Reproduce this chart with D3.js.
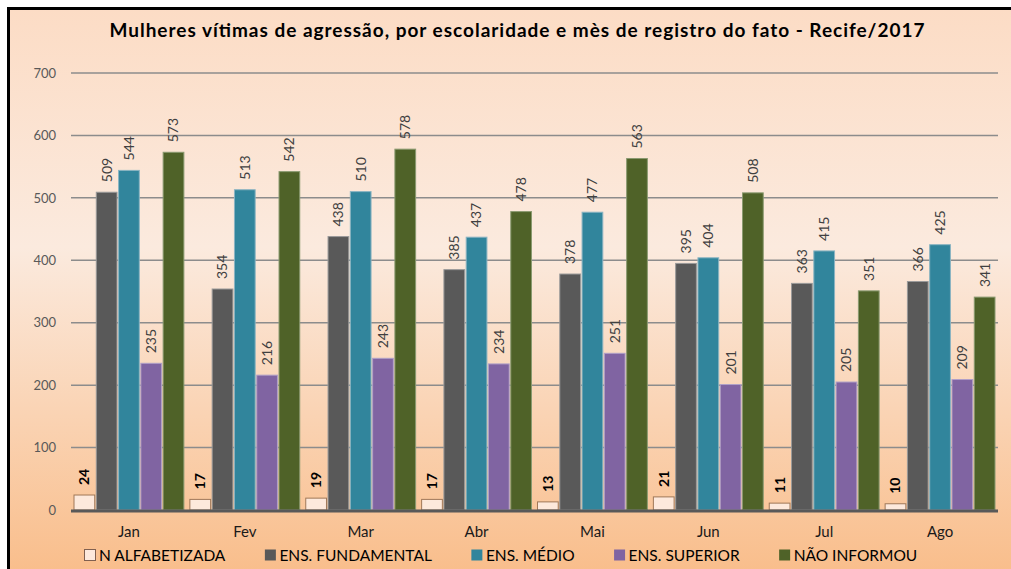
<!DOCTYPE html>
<html>
<head>
<meta charset="utf-8">
<script src="https://cdn.jsdelivr.net/npm/d3@7"></script>
<style>
  html, body { margin: 0; padding: 0; background: #fff; }
  svg { display: block; }
</style>
</head>
<body>
<svg id="chart" width="1011" height="569"></svg>
<script>
var months = ['Jan', 'Fev', 'Mar', 'Abr', 'Mai', 'Jun', 'Jul', 'Ago'];
var seriesNames = ['N ALFABETIZADA', 'ENS. FUNDAMENTAL', 'ENS. MÉDIO', 'ENS. SUPERIOR', 'NÃO INFORMOU'];
var nAlfabetizada = [24, 17, 19, 17, 13, 21, 11, 10];
var ensFundamental = [509, 354, 438, 385, 378, 395, 363, 366];
var ensMedio = [544, 513, 510, 437, 477, 404, 415, 425];
var ensSuperior = [235, 216, 243, 234, 251, 201, 205, 209];
var naoInformou = [573, 542, 578, 478, 563, 508, 351, 341];
var yTicks = [0, 100, 200, 300, 400, 500, 600, 700];
var title = 'Mulheres vítimas de agressão, por escolaridade e mès de registro do fato - Recife/2017';

var seriesValues = [nAlfabetizada, ensFundamental, ensMedio, ensSuperior, naoInformou];
var fills = ['#fde9dc', '#595959', '#31859c', '#8064a2', '#4f6228'];
var strokes = ['#a07858', '#9a9a9a', '#8ab4c2', '#b0a0c8', '#8a9a70'];

var FONT = "Lato, 'Liberation Sans', sans-serif";

var svg = d3.select('#chart');
var W = 1011, H = 569;

var defs = svg.append('defs');
var grad = defs.append('linearGradient').attr('id', 'bg')
  .attr('x1', 0).attr('y1', 0).attr('x2', 0).attr('y2', 1);
grad.append('stop').attr('offset', '0%').attr('stop-color', '#fcdcc5');
grad.append('stop').attr('offset', '42%').attr('stop-color', '#fbeade');
grad.append('stop').attr('offset', '100%').attr('stop-color', '#f9bd8a');

svg.append('rect')
  .attr('x', 8.5).attr('y', 8.5)
  .attr('width', W).attr('height', H)
  .attr('fill', 'url(#bg)')
  .attr('stroke', '#000').attr('stroke-width', 3);

svg.append('text')
  .attr('x', 517).attr('y', 37)
  .attr('text-anchor', 'middle')
  .attr('font-family', FONT)
  .attr('font-weight', 'bold')
  .attr('font-size', 19)
  .attr('textLength', 815).attr('lengthAdjust', 'spacing')
  .attr('fill', '#000')
  .text(title);

var x0 = 71, x1 = 998, yTop = 73, yBot = 510;

var x = d3.scaleBand().domain(months).range([x0, x1]).padding(0);
var xs = d3.scaleBand().domain(d3.range(seriesNames.length))
  .range([3, x.bandwidth() - 3]).paddingInner(0.07).paddingOuter(0);
var y = d3.scaleLinear().domain([0, 700]).range([yBot, yTop]);

// grid
svg.append('g').selectAll('line').data(yTicks.filter(function(d) { return d > 0; }))
  .enter().append('line')
  .attr('x1', x0).attr('x2', x1)
  .attr('y1', function(d) { return y(d); }).attr('y2', function(d) { return y(d); })
  .attr('stroke', '#8c8c8c').attr('stroke-width', 1.5);

var yAxis = svg.append('g')
  .attr('transform', 'translate(' + x0 + ',0)')
  .call(d3.axisLeft(y).tickValues(yTicks).tickSize(0).tickPadding(15));
yAxis.select('.domain').remove();
yAxis.selectAll('text')
  .attr('font-family', FONT).attr('font-size', 13).attr('fill', '#595959');

// bars
var groups = svg.append('g').selectAll('g').data(months).enter().append('g')
  .attr('transform', function(d) { return 'translate(' + x(d) + ',0)'; });

groups.each(function(m, mi) {
  var g = d3.select(this);
  seriesValues.forEach(function(vals, si) {
    var v = vals[mi];
    var bx = xs(si);
    g.append('rect')
      .attr('x', bx).attr('y', y(v))
      .attr('width', xs.bandwidth()).attr('height', yBot - y(v))
      .attr('fill', fills[si])
      .attr('stroke', strokes[si]).attr('stroke-width', 1);
    var cx = bx + xs.bandwidth() / 2;
    var ty = y(v) - 10;
    g.append('text')
      .attr('transform', 'translate(' + cx + ',' + ty + ') rotate(-90)')
      .attr('dy', '0.35em')
      .attr('font-family', FONT)
      .attr('font-size', 14)
      .attr('font-weight', si === 0 ? 'bold' : 'normal')
      .attr('fill', si === 0 ? '#000' : '#404040')
      .text(v);
  });
});

// baseline
svg.append('line')
  .attr('x1', x0).attr('x2', x1).attr('y1', yBot + 1).attr('y2', yBot + 1)
  .attr('stroke', '#595959').attr('stroke-width', 3);

// month labels
var xAxis = svg.append('g')
  .attr('transform', 'translate(0,' + yBot + ')')
  .call(d3.axisBottom(x).tickSize(0).tickPadding(16));
xAxis.select('.domain').remove();
xAxis.selectAll('text')
  .attr('font-family', FONT).attr('font-size', 15).attr('fill', '#1a1a1a');

// legend
var legend = svg.append('g').attr('transform', 'translate(84,561)');
var lx = 0;
seriesNames.forEach(function(name, i) {
  var item = legend.append('g').attr('transform', 'translate(' + lx + ',0)');
  item.append('rect')
    .attr('x', 0.5).attr('y', -11.5).attr('width', 11).attr('height', 11)
    .attr('fill', fills[i])
    .attr('stroke', i === 0 ? '#806050' : 'none');
  var t = item.append('text')
    .attr('x', 15).attr('y', 0)
    .attr('font-family', FONT).attr('font-size', 15.5)
    .attr('fill', '#000')
    .text(name);
  lx += 15 + t.node().getComputedTextLength() + 39;
});
</script>
</body>
</html>
